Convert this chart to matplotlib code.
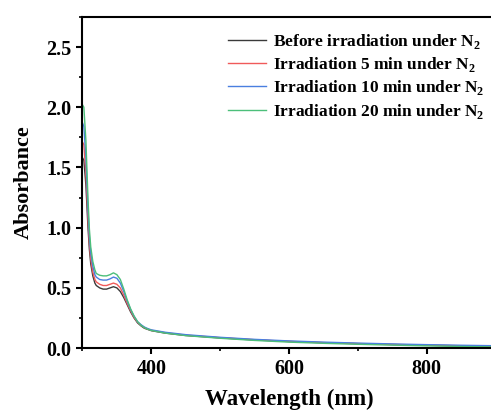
import numpy as np
from matplotlib import pyplot as plt
from matplotlib.ticker import MultipleLocator

plt.rcParams['font.family'] = ['Liberation Serif', 'DejaVu Serif']
plt.rcParams['font.weight'] = 'bold'
plt.rcParams['mathtext.fontset'] = 'custom'
plt.rcParams['mathtext.rm'] = 'Liberation Serif:bold'
plt.rcParams['mathtext.bf'] = 'Liberation Serif:bold'

wavelength = [300, 302, 305, 308, 310, 312, 315, 318, 320, 325, 330, 335, 340, 345, 350,
              355, 360, 365, 370, 375, 380, 385, 390, 395, 400, 420, 450, 500, 550, 600,
              650, 700, 750, 800, 850, 900]

before = [1.58, 1.56, 1.35, 1.00, 0.82, 0.70, 0.60, 0.54, 0.52, 0.50, 0.49, 0.49, 0.50, 0.51, 0.50,
          0.47, 0.42, 0.36, 0.30, 0.25, 0.21, 0.185, 0.165, 0.155, 0.145, 0.125, 0.105, 0.085, 0.068, 0.055,
          0.045, 0.037, 0.030, 0.024, 0.019, 0.015]
irr_5 = [1.71, 1.69, 1.45, 1.07, 0.87, 0.74, 0.63, 0.57, 0.55, 0.53, 0.52, 0.52, 0.53, 0.54, 0.53,
         0.50, 0.44, 0.37, 0.31, 0.255, 0.215, 0.19, 0.17, 0.158, 0.148, 0.128, 0.108, 0.087, 0.070, 0.056,
         0.046, 0.038, 0.031, 0.025, 0.020, 0.016]
irr_10 = [1.87, 1.84, 1.58, 1.15, 0.93, 0.79, 0.68, 0.61, 0.59, 0.57, 0.565, 0.565, 0.575, 0.59, 0.58,
          0.54, 0.47, 0.39, 0.32, 0.265, 0.22, 0.195, 0.175, 0.162, 0.152, 0.132, 0.112, 0.090, 0.073, 0.060,
          0.050, 0.042, 0.035, 0.029, 0.024, 0.020]
irr_20 = [2.02, 2.00, 1.72, 1.24, 0.99, 0.84, 0.72, 0.65, 0.62, 0.605, 0.60, 0.60, 0.61, 0.625, 0.61,
          0.57, 0.49, 0.40, 0.325, 0.265, 0.22, 0.19, 0.17, 0.157, 0.147, 0.125, 0.104, 0.082, 0.064, 0.050,
          0.040, 0.032, 0.025, 0.019, 0.014, 0.010]

labels = ['Before irradiation under N$_\\mathbf{2}$',
          'Irradiation 5 min under N$_\\mathbf{2}$',
          'Irradiation 10 min under N$_\\mathbf{2}$',
          'Irradiation 20 min under N$_\\mathbf{2}$']
colors = ['#3a3a3a', '#f05a5a', '#4a7fe0', '#4cbf7a']

fig = plt.figure(figsize=(4.91, 4.12), dpi=100)
ax = fig.add_axes([0.168, 0.155, 0.841, 0.804])

for series, lab, col in zip([before, irr_5, irr_10, irr_20], labels, colors):
    ax.plot(wavelength, series, color=col, lw=1.0, label=lab)

ax.set_xlim(300, 900)
ax.set_ylim(0, 2.75)
ax.xaxis.set_major_locator(MultipleLocator(200))
ax.xaxis.set_minor_locator(MultipleLocator(100))
ax.yaxis.set_major_locator(MultipleLocator(0.5))
ax.yaxis.set_minor_locator(MultipleLocator(0.25))
ax.tick_params(which='major', direction='out', length=4.5, width=1.5, labelsize=14.5, pad=3.5)
ax.tick_params(which='minor', direction='out', length=2.5, width=1.2)
for s in ax.spines.values():
    s.set_linewidth(1.5)

ax.set_xlabel('Wavelength (nm)', fontsize=16.5, fontweight='bold', labelpad=7)
ax.set_ylabel('Absorbance', fontsize=16, fontweight='bold', labelpad=9)

ax.legend(loc='upper left', bbox_to_anchor=(0.352, 0.955), frameon=False,
          handlelength=2.2, labelspacing=0.25, handletextpad=0.4,
          borderaxespad=0, borderpad=0,
          prop={'weight': 'bold', 'size': 12.5})

plt.savefig('out.png', dpi=100)
